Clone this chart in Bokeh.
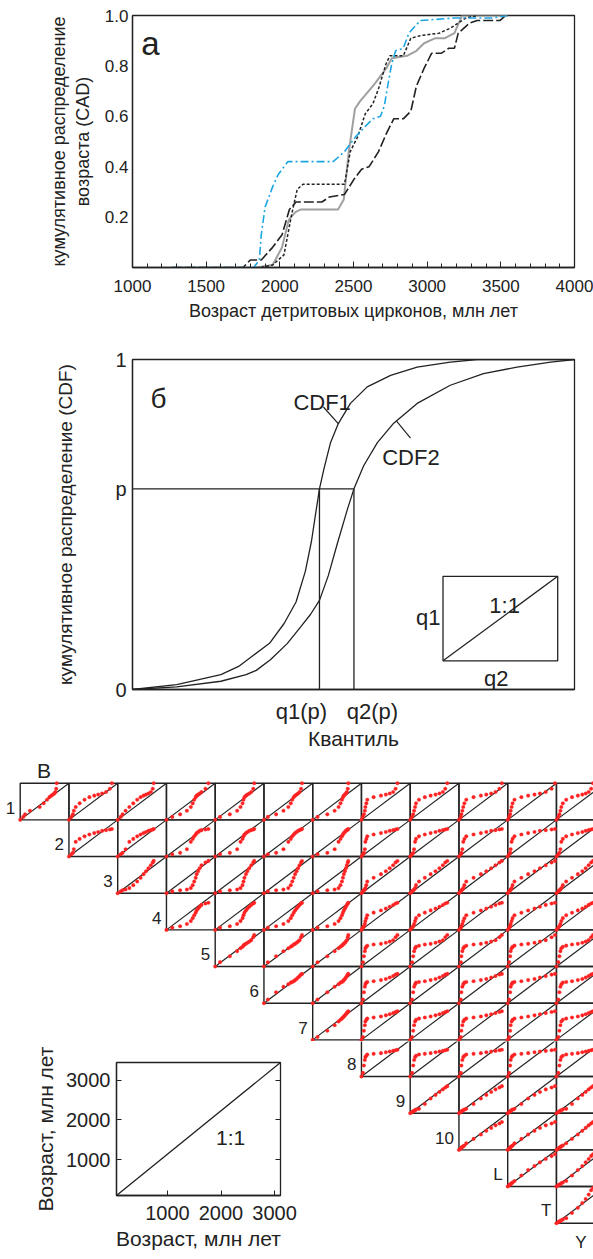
from bokeh.plotting import figure
from bokeh.models import Range1d, FixedTicker, Label, LinearAxis, NumeralTickFormatter
from bokeh.layouts import column, row
from bokeh.embed import file_html
from bokeh.resources import INLINE
from bokeh.core.properties import value

FONT = "Liberation Sans"
INK = "#222222"

# ---------------- panel a : cumulative age distributions ----------------
AGE_TICKS = [1000, 1500, 2000, 2500, 3000, 3500, 4000]
AGE_MINOR = list(range(1000, 4001, 100))
CAD_TICKS = [0.2, 0.4, 0.6, 0.8, 1.0]

blue_age = [1270, 1823, 1861, 1874, 1900, 1951, 1990, 2054, 2362, 2439, 2516, 2580, 2632, 2683, 2709,
            2735, 2760, 2786, 2838, 2876, 2953, 3185, 3442, 3545]
blue_cad = [0.0, 0.0, 0.03, 0.13, 0.24, 0.32, 0.37, 0.42, 0.42, 0.46, 0.52, 0.56, 0.59, 0.60, 0.64,
            0.73, 0.81, 0.86, 0.87, 0.93, 0.98, 0.99, 0.99, 1.0]

short_age = [1874, 1951, 2028, 2080, 2118, 2157, 2439, 2478, 2529, 2580, 2632, 2670, 2722, 2747, 2838,
             2889, 2953, 3082, 3159, 3262, 3339]
short_cad = [0.0, 0.01, 0.05, 0.21, 0.31, 0.33, 0.33, 0.46, 0.52, 0.61, 0.65, 0.71, 0.81, 0.84, 0.84,
             0.91, 0.92, 0.93, 0.95, 0.99, 1.0]

long_age = [1270, 1750, 1800, 1874, 1951, 2015, 2065, 2110, 2285, 2337, 2439, 2503, 2555, 2606, 2670,
            2722, 2773, 2838, 2889, 2927, 2979, 3030, 3095, 3147, 3185, 3211, 3288, 3339, 3493, 3532]
long_cad = [0.0, 0.0, 0.03, 0.03, 0.08, 0.13, 0.23, 0.26, 0.26, 0.28, 0.29, 0.35, 0.39, 0.40, 0.46,
            0.53, 0.59, 0.59, 0.62, 0.72, 0.79, 0.85, 0.85, 0.87, 0.87, 0.93, 0.97, 0.98, 0.98, 1.0]

gray_age = [1835, 1951, 2015, 2061, 2106, 2140, 2395, 2434, 2468, 2510, 2545, 2645, 2722, 2760, 2863,
            2927, 2979, 3056, 3121, 3185, 3237, 3545]
gray_cad = [0.0, 0.01, 0.08, 0.19, 0.22, 0.23, 0.23, 0.27, 0.46, 0.63, 0.66, 0.73, 0.79, 0.83, 0.84,
            0.86, 0.89, 0.91, 0.91, 0.93, 1.0, 1.0]

# ---------------- panel б : schematic CDFs ----------------
P_LEVEL = 0.608
Q1 = 0.423
Q2 = 0.501
cdf1_x = [0, .1, .2, .24, .27, .31, .343, .37, .391, .405, .414, .423, .433, .448, .465, .493,
          .531, .584, .644, .719, .78, 1.0]
cdf1_y = [0, .015, .045, .07, .1, .14, .2, .265, .358, .45, .53, .608, .668, .748, .804, .867,
          .917, .952, .977, .992, 1.0, 1.0]
cdf2_x = [0, .1, .2, .257, .28, .312, .35, .38, .403, .423, .443, .463, .486, .501, .523, .554, .591,
          .644, .719, .794, .870, .946, 1.0]
cdf2_y = [0, .008, .025, .045, .058, .09, .139, .189, .228, .27, .345, .44, .545, .608, .678, .748, .807,
          .867, .922, .957, .977, .992, 1.0]

# ---------------- panel в : Q-Q matrix (ages, Ma, at common quantile levels) ----------------
SAMPLES = ["1", "2", "3", "4", "5", "6", "7", "8", "9", "10", "L", "T", "Y"]
q_s1 = [1800, 1945, 2070, 2250, 2430, 2610, 2790, 2915, 2990, 3040, 3095, 3170, 3330, 3600]
q_s2 = [1800, 1910, 1980, 2160, 2520, 2665, 2790, 2880, 2950, 3005, 3060, 3095, 3130, 3150]
q_s3 = [1800, 1890, 1945, 1980, 2050, 2195, 2375, 2555, 2735, 2880, 3025, 3170, 3310, 3385]
q_s4 = [1800, 1910, 1980, 2090, 2230, 2375, 2520, 2645, 2755, 2845, 2935, 3025, 3095, 3130]
q_s5 = [1800, 2015, 2305, 2555, 2700, 2770, 2825, 2880, 2915, 2970, 3025, 3095, 3240, 3350]
q_s6 = [1800, 1980, 2340, 2610, 2735, 2810, 2845, 2880, 2935, 2990, 3060, 3130, 3205, 3240]
q_s7 = [1800, 1945, 2250, 2520, 2700, 2790, 2845, 2900, 2950, 3005, 3060, 3115, 3170, 3205]
q_s8 = [1800, 1980, 2340, 2610, 2755, 2825, 2880, 2915, 2950, 2990, 3025, 3060, 3095, 3115]
q_s9 = [1800, 1855, 1890, 1925, 1945, 1980, 2015, 2250, 2520, 2700, 2845, 2970, 3060, 3130]
q_s10 = [1800, 1870, 1910, 1945, 1980, 2015, 2125, 2340, 2555, 2735, 2880, 3005, 3095, 3170]
q_sL = [1800, 1870, 1890, 1925, 1960, 2000, 2070, 2340, 2610, 2810, 2990, 3150, 3295, 3385]
q_sT = [1800, 1855, 1890, 1910, 1945, 1980, 2050, 2305, 2555, 2790, 2990, 3205, 3420, 3545]
q_sY = [1800, 1870, 1910, 1945, 1980, 2035, 2160, 2375, 2590, 2755, 2880, 2990, 3080, 3150]
QQ_AGE_RANGE = [1800, 3600]

INSET_X_RANGE = [50, 3110]
INSET_Y_RANGE = [100, 3440]
INSET_TICKS = [1000, 2000, 3000]


def style_text_axis(ax, tick_size, label_size):
    ax.major_label_text_font = FONT
    ax.major_label_text_font_size = tick_size
    ax.major_label_text_color = INK
    ax.axis_label_text_font = FONT
    ax.axis_label_text_font_size = label_size
    ax.axis_label_text_font_style = "normal"
    ax.axis_label_text_color = INK
    ax.axis_line_color = INK
    ax.axis_line_width = 1.3
    ax.major_tick_line_color = INK
    ax.minor_tick_line_color = INK


def no_ticks(ax):
    ax.major_tick_in = 0
    ax.major_tick_out = 0
    ax.minor_tick_in = 0
    ax.minor_tick_out = 0


# ======== figure a ========
pa = figure(width=593, height=337, x_range=Range1d(1000, 4000), y_range=Range1d(0, 1),
            output_backend="svg", toolbar_location=None, frame_align=False,
            min_border_left=132, min_border_right=19, min_border_top=15, min_border_bottom=70)
pa.grid.visible = False
pa.outline_line_color = INK
pa.outline_line_width = 1.3
xa = pa.xaxis[0]
xa.ticker = FixedTicker(ticks=AGE_TICKS, minor_ticks=AGE_MINOR)
style_text_axis(xa, "17px", "18px")
xa.major_tick_in = 6
xa.major_tick_out = 0
xa.minor_tick_in = 4
xa.minor_tick_out = 0
xa.major_label_standoff = 12
xa.axis_label_standoff = 6
xa.axis_label = "Возраст детритовых цирконов, млн лет"
ya = pa.yaxis[0]
ya.ticker = FixedTicker(ticks=CAD_TICKS)
ya.formatter = NumeralTickFormatter(format="0.0")
style_text_axis(ya, "17px", "18px")
no_ticks(ya)
ya.major_label_standoff = 4
ya.axis_label_standoff = 9
ya.axis_label = "кумулятивное распределение\nвозраста (CAD)"

pa.line(gray_age, gray_cad, line_color="#a0a0a0", line_width=2.0)
pa.line(long_age, long_cad, line_color=INK, line_width=1.6, line_dash="10 3")
pa.line(short_age, short_cad, line_color=INK, line_width=1.5, line_dash="3 2")
pa.line(blue_age, blue_cad, line_color="#1ea6e3", line_width=1.6, line_dash="8 3 2 3")
pa.add_layout(Label(x=1122, y=0.888, text="а", text_font=FONT, text_font_size="33px",
                    text_align="center", text_baseline="alphabetic", text_color=INK))

# ======== figure б ========
pb = figure(width=593, height=415, x_range=Range1d(0, 1), y_range=Range1d(0, 1),
            output_backend="svg", toolbar_location=None, frame_align=False,
            min_border_left=132, min_border_right=19, min_border_top=22, min_border_bottom=59)
pb.grid.visible = False
pb.outline_line_color = INK
pb.outline_line_width = 1.3
Q_LABEL_POS = [Q1 - 0.041, Q2 + 0.042]
xb = pb.xaxis[0]
xb.ticker = FixedTicker(ticks=Q_LABEL_POS)
xb.major_label_overrides = {Q_LABEL_POS[0]: "q1(p)", Q_LABEL_POS[1]: "q2(p)"}
style_text_axis(xb, "22px", "21px")
no_ticks(xb)
xb.major_label_standoff = 9
xb.axis_label = "Квантиль"
xb.axis_label_standoff = 0
yb = pb.yaxis[0]
yb.ticker = FixedTicker(ticks=[0, P_LEVEL, 1])
yb.major_label_overrides = {0: "0", P_LEVEL: "p", 1: "1"}
style_text_axis(yb, "20px", "19px")
no_ticks(yb)
yb.major_label_standoff = 6
yb.axis_label_standoff = 36
yb.axis_label = "кумулятивное распределение (CDF)"

pb.line(cdf1_x, cdf1_y, line_color=INK, line_width=1.3)
pb.line(cdf2_x, cdf2_y, line_color=INK, line_width=1.3)
pb.line([0, Q2], [P_LEVEL, P_LEVEL], line_color=INK, line_width=1.3)
pb.line([Q1, Q1], [0, P_LEVEL], line_color=INK, line_width=1.3)
pb.line([Q2, Q2], [0, P_LEVEL], line_color=INK, line_width=1.3)
pb.segment(x0=[.432, .597], y0=[.856, .814], x1=[.466, .629], y1=[.805, .762], line_color=INK, line_width=1.2)
pb.quad(left=[.7025], right=[.962], bottom=[.087], top=[.343], fill_color=None, line_color=INK, line_width=1.3)
pb.line([.7025, .962], [.087, .343], line_color=INK, line_width=1.3)
for tx, ty, tt, fs in [(.059, .883, "б", "28px"), (.429, .869, "CDF1", "22px"), (.630, .704, "CDF2", "22px"),
                       (.842, .254, "1:1", "22px"), (.669, .219, "q1", "22px"), (.823, .034, "q2", "22px")]:
    pb.add_layout(Label(x=tx, y=ty, text=tt, text_font=FONT, text_font_size=fs, text_align="center",
                        text_baseline="alphabetic", text_color=INK))

# ======== panel в : Q-Q matrix ========
ages = [q_s1, q_s2, q_s3, q_s4, q_s5, q_s6, q_s7, q_s8, q_s9, q_s10, q_sL, q_sT, q_sY]
X0, CW, Y0, RH = 19.7, 48.75, 782.7, 36.67
lo, hi = QQ_AGE_RANGE
N = len(SAMPLES) - 1


def matrix_fig(xr, yr, w, h, rows):
    f = figure(width=w, height=h, x_range=Range1d(*xr), y_range=Range1d(*yr),
               output_backend="svg", toolbar_location=None, frame_align=False,
               x_axis_location=None, y_axis_location=None, min_border=0)
    f.grid.visible = False
    f.outline_line_color = None
    L, R, T, B, dx0, dy0, dx1, dy1, px, py = [], [], [], [], [], [], [], [], [], []
    lab_x, lab_y, lab_t = [], [], []
    for r in rows:
        top = Y0 + r * RH
        bot = top + RH
        lab_x.append(X0 + r * CW - 5)
        lab_y.append(top + RH / 2 + 6)
        lab_t.append(SAMPLES[r])
        for k in range(r, N):
            left = X0 + k * CW
            L.append(left); R.append(left + CW); T.append(top); B.append(bot)
            dx0.append(left); dy0.append(bot); dx1.append(left + CW); dy1.append(top)
            for ai, aj in zip(ages[r], ages[k + 1]):
                px.append(left + (aj - lo) / (hi - lo) * CW)
                py.append(bot - (ai - lo) / (hi - lo) * RH)
    f.quad(left=L, right=R, top=T, bottom=B, fill_color=None, line_color=INK, line_width=1.4)
    f.segment(x0=dx0, y0=dy0, x1=dx1, y1=dy1, line_color=INK, line_width=1.2)
    f.scatter(px, py, size=3.6, fill_color="#ff2222", line_color="#ff2222", line_width=0.3)
    f.text(x=lab_x, y=lab_y, text=lab_t, text_font=value(FONT), text_font_size="17px",
           text_align="right", text_baseline="alphabetic", text_color=INK)
    return f


m1 = matrix_fig((0, 593), (1041, 752), 593, 289, range(0, 7))
m1.text(x=[43.5], y=[770], text=["В"], text_font=value(FONT), text_font_size="21px",
        text_align="center", text_baseline="alphabetic", text_color=INK)
m2 = matrix_fig((300, 593), (1259, 1041), 293, 218, range(7, N))
m2.text(x=[X0 + (N - 1) * CW + CW / 2], y=[Y0 + N * RH + 19], text=[SAMPLES[-1]], text_font=value(FONT),
        text_font_size="17px", text_align="center", text_baseline="alphabetic", text_color=INK)

# inset axes
pi = figure(width=300, height=218, x_range=Range1d(*INSET_X_RANGE), y_range=Range1d(*INSET_Y_RANGE),
            output_backend="svg", toolbar_location=None, frame_align=False,
            min_border_left=116, min_border_right=20, min_border_top=21, min_border_bottom=64)
pi.grid.visible = False
pi.outline_line_color = INK
pi.outline_line_width = 1.3
for ax, std, lstd in [(pi.xaxis[0], 10, 4), (pi.yaxis[0], 6, 6)]:
    ax.ticker = FixedTicker(ticks=INSET_TICKS)
    style_text_axis(ax, "20px", "21px")
    no_ticks(ax)
    ax.major_tick_in = 5
    ax.major_label_standoff = std
    ax.axis_label_standoff = lstd
    ax.axis_label = "Возраст, млн лет"
ra = LinearAxis(ticker=FixedTicker(ticks=INSET_TICKS), major_label_overrides={t: "" for t in INSET_TICKS},
                major_tick_in=5, major_tick_out=0, minor_tick_in=0, minor_tick_out=0,
                major_label_standoff=0, axis_line_color=INK, major_tick_line_color=INK)
pi.add_layout(ra, "right")
pi.line(INSET_X_RANGE, INSET_Y_RANGE, line_color=INK, line_width=1.3)
pi.add_layout(Label(x=2179, y=1560, text="1:1", text_font=FONT, text_font_size="21px", text_align="center",
                    text_baseline="alphabetic", text_color=INK))

layout = column(pa, pb, m1, row(pi, m2))
open("out.html", "w").write(file_html(layout, INLINE))
